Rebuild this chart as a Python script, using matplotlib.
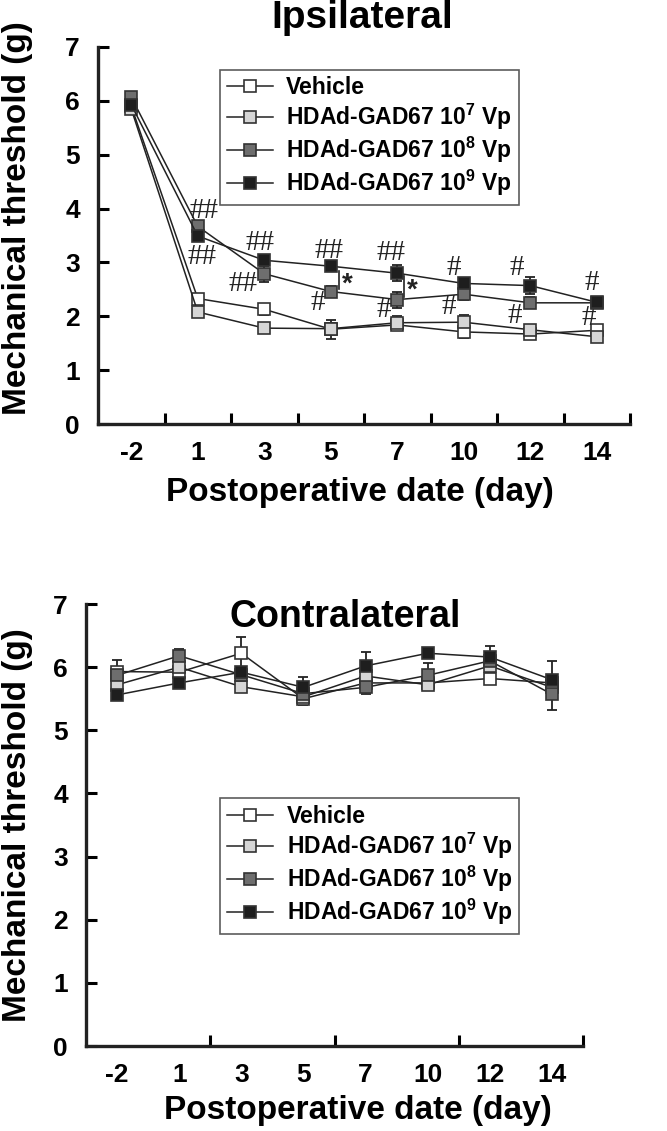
import numpy as np
import matplotlib
matplotlib.use("Agg")
import matplotlib.pyplot as plt
from matplotlib.ticker import FixedLocator

plt.rcParams['font.family'] = ['Liberation Sans', 'DejaVu Sans']
plt.rcParams['font.weight'] = 'bold'
plt.rcParams['mathtext.fontset'] = 'custom'
plt.rcParams['mathtext.rm'] = 'Liberation Sans:bold'
plt.rcParams['mathtext.bf'] = 'Liberation Sans:bold'

days = ['-2', '1', '3', '5', '7', '10', '12', '14']
groups = ['Vehicle', r'HDAd-GAD67 10$^{\mathbf{7}}$ Vp',
          r'HDAd-GAD67 10$^{\mathbf{8}}$ Vp', r'HDAd-GAD67 10$^{\mathbf{9}}$ Vp']
colors = ['white', '#d6d6d6', '#6e6e6e', '#1e1e1e']

# ipsilateral means / sem
ipsi_veh = [5.90, 2.33, 2.13, 1.76, 1.84, 1.71, 1.67, 1.74]
ipsi_v7 = [5.85, 2.08, 1.78, 1.77, 1.88, 1.89, 1.75, 1.62]
ipsi_v8 = [6.07, 3.67, 2.79, 2.46, 2.31, 2.41, 2.25, 2.25]
ipsi_v9 = [5.93, 3.49, 3.04, 2.93, 2.80, 2.61, 2.57, 2.26]
ipsi_veh_sem = [0.10, 0.08, 0.10, 0.18, 0.08, 0.12, 0.05, 0.08]
ipsi_v7_sem = [0.08, 0.05, 0.06, 0.10, 0.13, 0.14, 0.08, 0.06]
ipsi_v8_sem = [0.08, 0.10, 0.16, 0.10, 0.15, 0.10, 0.10, 0.06]
ipsi_v9_sem = [0.10, 0.10, 0.10, 0.06, 0.15, 0.08, 0.16, 0.06]

# contralateral means / sem
contra_veh = [5.93, 5.92, 6.22, 5.50, 5.75, 5.75, 5.82, 5.75]
contra_v7 = [5.72, 6.00, 5.69, 5.53, 5.86, 5.72, 6.02, 5.68]
contra_v8 = [5.87, 6.18, 5.88, 5.58, 5.68, 5.87, 6.10, 5.57]
contra_v9 = [5.56, 5.75, 5.92, 5.68, 6.02, 6.22, 6.16, 5.80]
contra_veh_sem = [0.19, 0.10, 0.26, 0.10, 0.12, 0.10, 0.08, 0.10]
contra_v7_sem = [0.10, 0.10, 0.08, 0.10, 0.10, 0.08, 0.08, 0.10]
contra_v8_sem = [0.12, 0.10, 0.10, 0.10, 0.10, 0.20, 0.10, 0.25]
contra_v9_sem = [0.08, 0.08, 0.08, 0.16, 0.22, 0.08, 0.17, 0.30]

# significance marks (day index, value, text)
ipsi_marks = [(1.1, 3.96, '##'), (1.06, 3.1, '##'), (1.94, 3.37, '##'), (1.68, 2.6, '##'),
              (2.97, 3.22, '##'), (2.8, 2.24, '#'), (3.91, 3.17, '##'), (3.79, 2.11, '#'),
              (4.85, 2.9, '#'), (4.77, 2.17, '#'), (5.8, 2.89, '#'), (5.77, 2.0, '#'),
              (6.93, 2.61, '#'), (6.88, 1.96, '#')]
ipsi_stars = [(3.12, 2.5, 2.85), (4.1, 2.35, 2.75)]

W, H = 667, 1131
fig = plt.figure(figsize=(W / 100, H / 100), dpi=100)
ax1 = fig.add_axes([98 / W, 1 - 424 / H, (630 - 98) / W, (424 - 47) / H])
ax2 = fig.add_axes([86 / W, 1 - 1046 / H, (583 - 86) / W, (1046 - 604) / H])

x = np.arange(len(days))
order = [1, 0, 2, 3]


def draw(ax, means, sems, xticks_minor):
    for i in order:
        ax.errorbar(x, means[i], yerr=sems[i], fmt='none', ecolor='#222222',
                    elinewidth=1.3, capsize=3.5, capthick=1.3, zorder=2)
    handles = [None] * 4
    for i in order:
        ln, = ax.plot(x, means[i], color='#222222', lw=1.1, marker='s', ms=9,
                      mfc=colors[i], mec='#333333', mew=1.2, zorder=3 + i * 0.1)
        handles[i] = ln
    ax.set_xlim(-0.5, 7.5)
    ax.set_ylim(0, 7)
    ax.set_yticks(range(8))
    ax.set_xticks(x)
    ax.set_xticklabels(days)
    ax.xaxis.set_minor_locator(FixedLocator(xticks_minor))
    ax.tick_params(axis='x', which='major', length=0, pad=12, labelsize=19)
    ax.tick_params(axis='x', which='minor', length=8, width=2.2, direction='in')
    ax.tick_params(axis='y', length=8, width=2.2, direction='in', pad=13, labelsize=19)
    for s in ['top', 'right']:
        ax.spines[s].set_visible(False)
    for s in ['left', 'bottom']:
        ax.spines[s].set_linewidth(2.4)
        ax.spines[s].set_color('#222222')
    return handles


h1 = draw(ax1, [ipsi_veh, ipsi_v7, ipsi_v8, ipsi_v9],
          [ipsi_veh_sem, ipsi_v7_sem, ipsi_v8_sem, ipsi_v9_sem],
          [0.5, 1.5, 2.5, 3.5, 4.5, 5.5, 6.5, 7.5])
h2 = draw(ax2, [contra_veh, contra_v7, contra_v8, contra_v9],
          [contra_veh_sem, contra_v7_sem, contra_v8_sem, contra_v9_sem],
          [1.5, 3.5, 5.5, 7.5])

for ax, h, anchor in [(ax1, h1, (0.229, 0.94)), (ax2, h2, (0.27, 0.56))]:
    leg = ax.legend(h, groups, loc='upper left', bbox_to_anchor=anchor, fontsize=16.5,
                    frameon=True, fancybox=False, edgecolor='#333333',
                    handlelength=2.0, handletextpad=0.6, labelspacing=0.12,
                    borderpad=0.3, borderaxespad=0)
    leg.get_frame().set_linewidth(1.2)

for xi, yv, t in ipsi_marks:
    ax1.text(xi, yv, t, ha='center', va='center', fontsize=21,
             family=['Liberation Serif'], fontweight='normal', color='#222222')
for xi, y0, y1 in ipsi_stars:
    ax1.plot([xi, xi], [y0, y1], color='#222222', lw=1.2)
    ax1.text(xi + 0.05, (y0 + y1) / 2 - 0.08, '*', ha='left', va='center',
             fontsize=20, color='#222222')

fig.text(362 / W, 1 - 28 / H, 'Ipsilateral', ha='center', va='baseline', fontsize=28)
ax2.text(3.68, 6.8, 'Contralateral', ha='center', va='center', fontsize=27)

for yc, xc_lab, ylab in [(218, 360, 492), (825, 358, 1111)]:
    fig.text(18 / W, 1 - yc / H, 'Mechanical threshold (g)', rotation=90,
             ha='center', va='center', fontsize=24)
    fig.text(xc_lab / W, 1 - ylab / H, 'Postoperative date (day)',
             ha='center', va='center', fontsize=24)

fig.savefig('out.png', dpi=100)
